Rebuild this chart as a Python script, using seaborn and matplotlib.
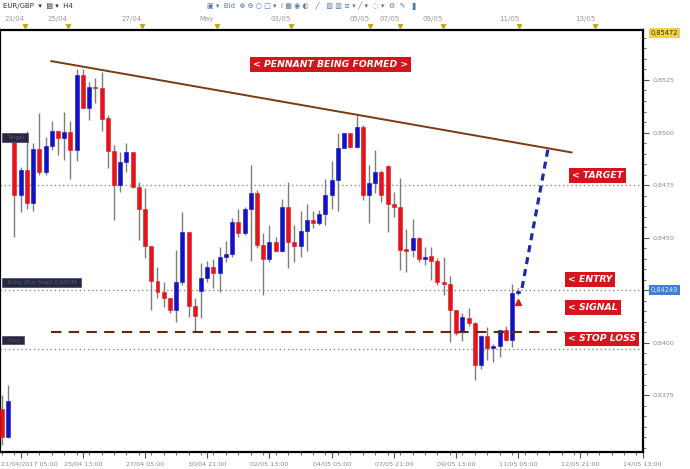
import numpy as np
import pandas as pd
import matplotlib
matplotlib.use("Agg")
import matplotlib.pyplot as plt
from matplotlib.ticker import MultipleLocator
import seaborn as sns

# EUR/GBP H4 candles
opens = [0.83684, 0.83550, 0.84974, 0.84702, 0.84821, 0.84664, 0.84921, 0.84812, 0.84936, 0.85007,
         0.84974, 0.85002, 0.84917, 0.85274, 0.85117, 0.85217, 0.85212, 0.85069, 0.84912, 0.84750,
         0.84860, 0.84907, 0.84740, 0.84636, 0.84460, 0.84293, 0.84241, 0.84212, 0.84155, 0.84288,
         0.84526, 0.84174, 0.84245, 0.84307, 0.84360, 0.84331, 0.84407, 0.84422, 0.84574, 0.84522,
         0.84636, 0.84712, 0.84464, 0.84398, 0.84479, 0.84436, 0.84645, 0.84479, 0.84460, 0.84531,
         0.84583, 0.84569, 0.84612, 0.84702, 0.84774, 0.84926, 0.84998, 0.84931, 0.85026, 0.84702,
         0.84760, 0.84812, 0.84840, 0.84660, 0.84645, 0.84445, 0.84441, 0.84498, 0.84398, 0.84412,
         0.84388, 0.84288, 0.84279, 0.84155, 0.84050, 0.84117, 0.84093, 0.83893, 0.84031, 0.83974,
         0.83984, 0.84060, 0.84012, 0.84236]
highs = [0.83750, 0.83798, 0.84998, 0.84836, 0.85007, 0.84950, 0.85093, 0.84978, 0.85055, 0.85007,
         0.85097, 0.85055, 0.85302, 0.85302, 0.85240, 0.85259, 0.85288, 0.85083, 0.84940, 0.84907,
         0.84950, 0.84907, 0.84764, 0.84736, 0.84460, 0.84360, 0.84288, 0.84212, 0.84441, 0.84621,
         0.84526, 0.84212, 0.84379, 0.84388, 0.84398, 0.84455, 0.84483, 0.84593, 0.84636, 0.84645,
         0.84845, 0.84726, 0.84522, 0.84560, 0.84502, 0.84683, 0.84764, 0.84560, 0.84626, 0.84660,
         0.84626, 0.84631, 0.84779, 0.84864, 0.84998, 0.84998, 0.84998, 0.85088, 0.85036, 0.84845,
         0.84917, 0.84821, 0.84845, 0.84717, 0.84783, 0.84541, 0.84588, 0.84502, 0.84455, 0.84455,
         0.84403, 0.84407, 0.84317, 0.84155, 0.84141, 0.84165, 0.84098, 0.84036, 0.84074, 0.83993,
         0.84060, 0.84079, 0.84279, 0.84260]
lows = [0.83512, 0.83546, 0.84502, 0.84621, 0.84636, 0.84626, 0.84798, 0.84798, 0.84917, 0.84893,
        0.84869, 0.84779, 0.84864, 0.85117, 0.85059, 0.85140, 0.85007, 0.84831, 0.84583, 0.84717,
        0.84812, 0.84736, 0.84488, 0.84403, 0.84155, 0.84212, 0.84169, 0.84141, 0.84098, 0.84274,
        0.84122, 0.84050, 0.84117, 0.84288, 0.84260, 0.84241, 0.84383, 0.84407, 0.84502, 0.84512,
        0.84388, 0.84450, 0.84226, 0.84383, 0.84431, 0.84431, 0.84355, 0.84383, 0.84407, 0.84436,
        0.84545, 0.84560, 0.84560, 0.84636, 0.84626, 0.84926, 0.84926, 0.84926, 0.84679, 0.84569,
        0.84712, 0.84669, 0.84526, 0.84598, 0.84345, 0.84336, 0.84407, 0.84383, 0.84369, 0.84298,
        0.84274, 0.84226, 0.84003, 0.84036, 0.84007, 0.84079, 0.83822, 0.83874, 0.83917, 0.83907,
        0.83931, 0.84007, 0.83979, 0.84226]
closes = [0.83550, 0.83722, 0.84702, 0.84821, 0.84664, 0.84921, 0.84812, 0.84936, 0.85007, 0.84974,
          0.85002, 0.84917, 0.85274, 0.85117, 0.85217, 0.85212, 0.85064, 0.84912, 0.84750, 0.84860,
          0.84907, 0.84740, 0.84636, 0.84460, 0.84293, 0.84241, 0.84212, 0.84155, 0.84288, 0.84526,
          0.84174, 0.84126, 0.84307, 0.84360, 0.84331, 0.84407, 0.84422, 0.84574, 0.84522, 0.84636,
          0.84712, 0.84464, 0.84398, 0.84479, 0.84436, 0.84645, 0.84479, 0.84460, 0.84531, 0.84583,
          0.84569, 0.84612, 0.84702, 0.84774, 0.84926, 0.84998, 0.84931, 0.85026, 0.84702, 0.84760,
          0.84812, 0.84702, 0.84660, 0.84645, 0.84441, 0.84436, 0.84498, 0.84398, 0.84407, 0.84388,
          0.84288, 0.84279, 0.84155, 0.84046, 0.84122, 0.84093, 0.83893, 0.84031, 0.83974, 0.83984,
          0.84060, 0.84012, 0.84236, 0.84245]

time_labels = ["21/04/2017 05:00", "25/04 13:00", "27/04 05:00", "30/04 21:00", "02/05 13:00",
               "04/05 05:00", "07/05 21:00", "09/05 13:00", "11/05 05:00", "12/05 21:00", "14/05 13:00"]
top_labels = ["23/04", "25/04", "27/04", "May", "03/05", "05/05", "07/05", "09/05", "11/05", "13/05"]
price_ticks = [0.8375, 0.8400, 0.8425, 0.8450, 0.8475, 0.8500, 0.8525]

target_level = 0.8475
entry_level = 0.84249
stop_level = 0.83969
stop_dash_level = 0.84050
top_price = 0.85472
trend_x = [7.9, 91.6]
trend_y = [0.85340, 0.84905]
proj_x = [83.6, 87.8]
proj_y = [0.84260, 0.84926]

df = pd.DataFrame({"open": opens, "high": highs, "low": lows, "close": closes})
df["idx"] = np.arange(len(df))
df["bull"] = df["close"] >= df["open"]
df["bottom"] = df[["open", "close"]].min(axis=1)
df["height"] = (df["close"] - df["open"]).abs().clip(lower=0.00003)

sns.set_style("white")
plt.rcParams["font.family"] = ["DejaVu Sans"]

fig = plt.figure(figsize=(6.9, 4.69), dpi=100)
ax = fig.add_axes([0, 17 / 469, 643 / 690, 422 / 469])

blue = "#1212c4"
red = "#e3141b"
colors = [blue if b else red for b in df["bull"]]

# horizontal dotted levels
for lvl in [target_level, entry_level, stop_level]:
    ax.axhline(lvl, color="#8a8a8a", ls=(0, (1, 2)), lw=1, zorder=1)

# candles
ax.vlines(df["idx"], df["low"], df["high"], color="#7d7d7d", lw=1, zorder=2)
ax.bar(df["idx"], df["height"], bottom=df["bottom"], width=0.64,
       color=colors, edgecolor=colors, lw=0.4, zorder=3)

# pennant line, stop line and projection
sns.lineplot(x=trend_x, y=trend_y, ax=ax, color="#7a3a12", lw=1.4, zorder=4)
ax.plot([trend_x[0], 90.5], [stop_dash_level, stop_dash_level], color="#5e2a10",
        lw=1.5, dashes=(5, 3.5), zorder=4)
ax.plot(proj_x, proj_y, color="#1c2aa8", lw=2.3, dashes=(2.2, 1.6), zorder=5)
ax.plot([83], [0.84193], marker="^", ms=4.5, color=red, zorder=6)

# labels
lab = dict(color="white", fontsize=6.7, fontstyle="italic", fontweight="bold",
           va="center", ha="left", zorder=7)
box = dict(boxstyle="square,pad=0.32", fc="#d4151b", ec="none")
ax.text(40.4, 0.85324, "< PENNANT BEING FORMED >", bbox=box, **lab)
ax.text(91.6, 0.84795, "< TARGET", bbox=box, **lab)
ax.text(91.0, 0.84298, "< ENTRY", bbox=box, **lab)
ax.text(91.0, 0.84169, "< SIGNAL", bbox=box, **lab)
ax.text(91.0, 0.84017, "< STOP LOSS", bbox=box, **lab)

dark = dict(boxstyle="square,pad=0.35", fc="#27283a", ec="#4a4f8a", lw=0.6)
ax.text(0.3, 0.84978, "  Target ", fontsize=4, color="#555a78", va="center", bbox=dark)
ax.text(0.3, 0.84286, "  Entry (Buy Stop) 0.84249 ", fontsize=4, color="#555a78", va="center", bbox=dark)
ax.text(0.3, 0.84012, "  Stop ", fontsize=4, color="#7a3a4a", va="center", bbox=dark)

ax.set_xlim(-0.32, 103.05)
ax.set_ylim(0.83479, 0.85488)

# price scale (the 0,8425 label sits under the current-price box)
ax.yaxis.tick_right()
ax.set_yticks(price_ticks)
ax.set_yticklabels(["" if p == 0.8425 else f"{p:.4f}".replace(".", ",") for p in price_ticks])
ax.yaxis.set_minor_locator(MultipleLocator(0.0005))
ax.tick_params(axis="y", which="both", direction="out", right=True, colors="#555555",
               labelsize=4.6, labelcolor="#8a8a8a", pad=3)
ax.tick_params(axis="y", which="major", length=4)
ax.tick_params(axis="y", which="minor", length=2)

ax.text(1.012, top_price, "0,85472", transform=ax.get_yaxis_transform(), fontsize=4.8,
        color="#333333", va="center", ha="left",
        bbox=dict(boxstyle="square,pad=0.3", fc="#f3d23a", ec="none"), clip_on=False)
ax.text(1.012, entry_level, "0,84249", transform=ax.get_yaxis_transform(), fontsize=4.8,
        color="#dde6ff", va="center", ha="left",
        bbox=dict(boxstyle="square,pad=0.3", fc="#3d7fd6", ec="none"), clip_on=False)

# time scale; the first label is pushed against the left edge as in the terminal
ax.set_xticks(np.arange(3, 104, 10))
ax.set_xticklabels([""] + time_labels[1:])
ax.xaxis.set_minor_locator(MultipleLocator(2))
ax.tick_params(axis="x", which="both", direction="out", bottom=True, colors="#555555",
               labelsize=4.6, labelcolor="#8a8a8a", pad=3)
ax.tick_params(axis="x", which="major", length=4)
ax.tick_params(axis="x", which="minor", length=2)
for lbl in ax.get_xticklabels():
    lbl.set_clip_on(False)
ax.text(0.001, -0.0285, time_labels[0], transform=ax.transAxes, fontsize=4.6,
        color="#8a8a8a", ha="left", va="center", clip_on=False)

for s in ax.spines.values():
    s.set_color("black")
    s.set_linewidth(1.6)

# toolbar and background window scale at the top
fig.text(0.004, 1 - 6 / 469, "EUR/GBP  \u25be  \u25a4 \u25be  H4", fontsize=5, color="#333333", va="center")
fig.text(0.30, 1 - 6 / 469, "\u25a3 \u25be  Bid  \u2295 \u2296 \u25cb \u25a1 \u25be  \u0399 \u25a6 \u25c9 \u25d0   \u2571   \u25a7 \u25a5 \u2261 \u25be \u2571 \u25be  \u25cc \u25be  \u2699  \u270e  \u2590",
         fontsize=5, color="#5577aa", va="center")
top_pos = [15, 58, 132, 207, 281, 360, 390, 433, 509, 585]
for t, px in zip(top_labels, top_pos):
    fig.text(px / 690, 1 - 19 / 469, t, fontsize=5, color="#999999", ha="center", va="center")
ax_top = fig.add_axes([0, 1 - 28 / 469, 1, 4 / 469])
ax_top.set_xlim(0, 690)
ax_top.set_ylim(0, 1)
ax_top.set_xticks(np.arange(3, 690, 9))
ax_top.tick_params(axis="x", direction="in", length=2, colors="#999999", labelbottom=False)
ax_top.set_yticks([])
for s in ax_top.spines.values():
    s.set_visible(False)
ax_top.plot([p + 10 for p in top_pos], [0.5] * len(top_pos), "v", ms=3, color="#c8a814")

fig.savefig("out.png", dpi=100)
